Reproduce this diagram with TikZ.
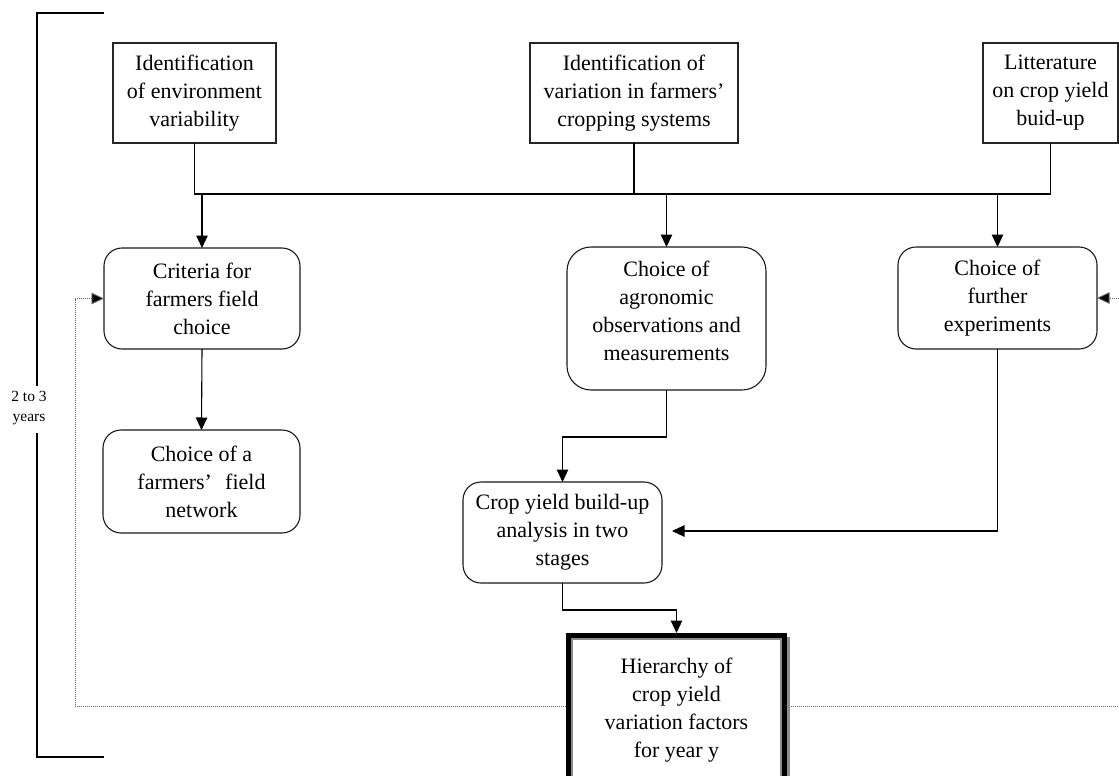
\documentclass[tikz,border=0pt]{standalone}
\usepackage{fontspec}
\setmainfont{Liberation Serif}
\usetikzlibrary{arrows.meta,calc}

\begin{document}
\begin{tikzpicture}[x=1pt,y=-1pt,
  every node/.style={font=\fontsize{22}{28}\selectfont, align=center, inner sep=0pt, outer sep=0pt},
  sqbox/.style={draw=black!85, line width=1.1pt, fill=white},
  rbox/.style={draw=black!90, line width=1.1pt, rounded corners=18pt, fill=white},
  link/.style={draw=black, line width=1.1pt},
  arr/.style={link, -{Triangle[length=12.5pt,width=11.5pt]}},
  loopline/.style={draw=black!60, line width=0.9pt, dash pattern=on 1pt off 1pt},
  looparr/.style={loopline, -{Triangle[length=12.5pt,width=11.5pt,fill=black]}},
  small/.style={font=\fontsize{15.5}{20}\selectfont}
]
\useasboundingbox (0,0) rectangle (1119,776);

% time bracket
\coordinate (brTop) at (104,13);
\coordinate (brBot) at (104,757);
\draw[link, line width=1.3pt] (brTop) -- (37,13) -- (37,386);
\draw[link, line width=1.3pt] (37,433) -- (37,757) -- (brBot);
\node[small] (years) at (29,408) {2 to 3\\years};

% source boxes
\node[sqbox, minimum width=163pt, minimum height=100pt] (env) at (194.5,93)
  {Identification\\of environment\\variability};
\node[sqbox, minimum width=208pt, minimum height=100pt] (var) at (634,93)
  {Identification of\\variation in farmers’\\cropping systems};
\node[sqbox, minimum width=135pt, minimum height=100pt] (lit) at (1050.5,93)
  {Litterature\\on crop yield\\buid-up};

% choice boxes
\node[rbox, minimum width=196pt, minimum height=101pt] (crit) at (202,298.5)
  {Criteria for\\farmers field\\choice};
\node[rbox, minimum width=197pt, minimum height=103pt] (net) at (201.5,481.5)
  {Choice of a\\farmers’\hspace{0.35em} field\\network};
\node[rbox, rounded corners=24pt, minimum width=199pt, minimum height=143pt] (mid) at (666.5,318.5)
  {\raisebox{6pt}[\height][\depth]{\begin{tabular}{@{}c@{}}Choice of\\agronomic\\observations and\\measurements\end{tabular}}};
\node[rbox, minimum width=199pt, minimum height=102pt] (further) at (997.5,298)
  {Choice of\\further\\experiments};
\node[rbox, minimum width=199pt, minimum height=101pt] (crop) at (562.5,532.5)
  {Crop yield build-up\\analysis in two\\stages};

% feedback loop (drawn before the result box)
\coordinate (loopL) at (75,706);
\coordinate (loopR) at (1126,706);
\node[minimum width=221pt, minimum height=155pt] (hier) at (676.5,710.5) {};
\draw[looparr] (hier.west |- loopL) -- (loopL) |- (crit.west);
\draw[looparr] (hier.east |- loopR) -- (loopR) |- (further.east);

% result box with thick framed border and shadow
\fill[black!45] ($(hier.north west)+(4,4)$) rectangle ($(hier.south east)+(3,3)$);
\draw[black, line width=5pt, fill=white] ($(hier.north west)+(2.5,2.5)$) rectangle ($(hier.south east)+(-2.5,-2.5)$);
\draw[black!45, line width=2pt] ($(hier.north west)+(6,6)$) rectangle ($(hier.south east)+(-6,-6)$);
\node at (hier.center) {Hierarchy of\\crop yield\\variation factors\\for year y};

% distribution bus
\coordinate (bus) at (0,194);
\draw[link] (env.south) -- (env.south |- bus) -- (lit.south |- bus) -- (lit.south);
\draw[link] (var.south) -- (var.south |- bus);
\draw[arr] (crit.north |- bus) -- (crit.north);
\draw[arr] (mid.north |- bus) -- (mid.north);
\draw[arr] (further.north |- bus) -- (further.north);

% flow between choices
\draw[arr] (crit.south) -- (net.north);
\draw[arr] (mid.south) -- ++(0,47) -| (crop.north);
\coordinate (cropIn) at ($(crop.east)+(10,-1.5)$);
\draw[arr] (further.south) |- (cropIn);
\draw[arr] (crop.south) -- ++(0,27) -| (hier.north);
\end{tikzpicture}
\end{document}
